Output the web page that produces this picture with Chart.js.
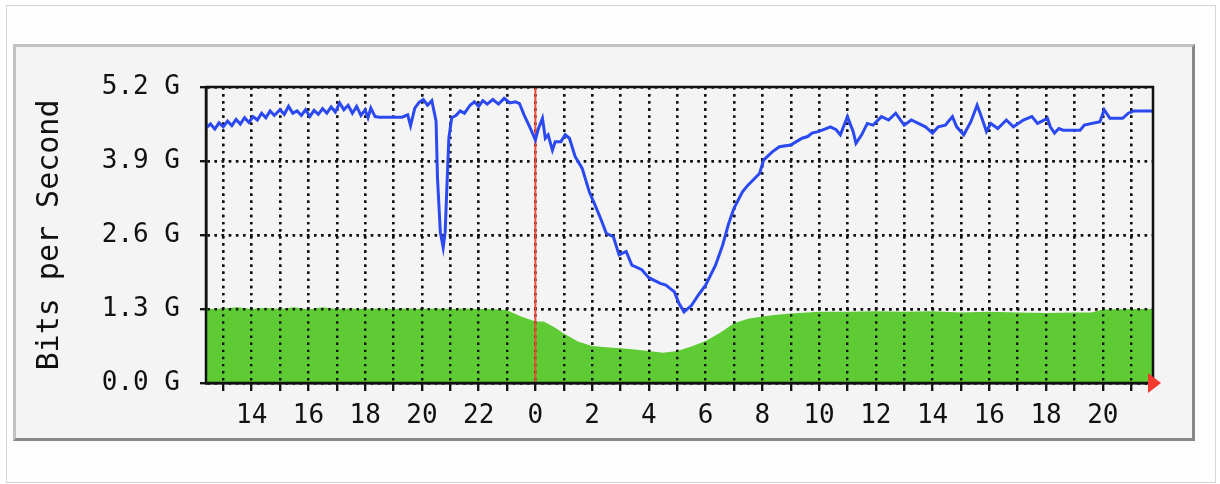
<!DOCTYPE html>
<html>
<head>
<meta charset="utf-8">
<script src="https://cdn.jsdelivr.net/npm/chart.js@4.4.1/dist/chart.umd.min.js"></script>
<style>
  html, body { margin: 0; padding: 0; background: #fff; }
  .page { position: relative; width: 1220px; height: 484px; overflow: hidden; }
  .outer { position: absolute; left: 6px; top: 5px; width: 1208px; height: 476px; border: 1px solid #d6d6d6; background: #fdfdfd; }
  .panel { position: absolute; left: 13px; top: 44px; width: 1176px; height: 391px; background: #f4f4f4;
           border-top: 3px solid #c2c2c2; border-left: 3px solid #c2c2c2;
           border-right: 3px solid #888; border-bottom: 3px solid #888; }
  canvas { position: absolute; left: 0; top: 0; }
</style>
</head>
<body>
<div class="page">
  <div class="outer"></div>
  <div class="panel"></div>
  <canvas id="traffic" width="1220" height="484"></canvas>
</div>
<script>
// hours since midnight of day 1 (24 = next midnight), values in Gbit/s
const outTime = [
  12.39, 12.55, 12.7, 12.85, 13.0, 13.15, 13.3, 13.45, 13.6, 13.75,
  13.9, 14.05, 14.2, 14.35, 14.5, 14.65, 14.8, 15.0, 15.15, 15.3,
  15.45, 15.6, 15.75, 15.9, 16.05, 16.2, 16.35, 16.5, 16.65, 16.8,
  16.95, 17.1, 17.25, 17.4, 17.55, 17.7, 17.85, 18.0, 18.1, 18.2,
  18.35, 18.5, 19.3, 19.5, 19.6, 19.75, 19.9, 20.05, 20.2, 20.35,
  20.5, 20.55, 20.65, 20.75, 20.82, 20.87, 20.95, 21.05, 21.2, 21.35,
  21.5, 21.7, 21.85, 22.0, 22.15, 22.3, 22.5, 22.7, 22.9, 23.1,
  23.3, 23.44, 23.6, 23.8, 24.0, 24.1, 24.25, 24.35, 24.45, 24.6,
  24.7, 24.9, 25.05, 25.2, 25.4, 25.65, 25.9, 26.1, 26.3, 26.5,
  26.75, 26.95, 27.2, 27.4, 27.75, 28.0, 28.4, 28.6, 28.9, 29.06,
  29.24, 29.5, 29.75, 30.0, 30.35, 30.6, 30.8, 31.0, 31.3, 31.5,
  31.9, 32.05, 32.35, 32.6, 33.0, 33.2, 33.4, 33.6, 33.75, 34.0,
  34.2, 34.4, 34.6, 34.75, 35.0, 35.2, 35.3, 35.5, 35.7, 35.9,
  36.2, 36.45, 36.7, 37.0, 37.25, 37.5, 37.75, 38.0, 38.2, 38.45,
  38.7, 38.85, 39.1, 39.35, 39.57, 39.7, 39.9, 40.05, 40.3, 40.6,
  40.85, 41.2, 41.5, 41.7, 42.05, 42.15, 42.3, 42.45, 42.6, 43.2,
  43.35, 43.9, 44.05, 44.25, 44.7, 44.9, 45.1, 45.77
];
const outBits = [
  4.48, 4.55, 4.46, 4.57, 4.50, 4.60, 4.52, 4.63, 4.55, 4.66,
  4.58, 4.68, 4.62, 4.74, 4.66, 4.78, 4.70, 4.80, 4.72, 4.86,
  4.74, 4.78, 4.70, 4.80, 4.68, 4.79, 4.72, 4.82, 4.74, 4.85,
  4.76, 4.92, 4.80, 4.88, 4.74, 4.86, 4.70, 4.80, 4.66, 4.83,
  4.68, 4.67, 4.67, 4.71, 4.52, 4.83, 4.93, 4.98, 4.88, 4.96,
  4.60, 3.60, 2.65, 2.38, 2.65, 3.30, 4.30, 4.66, 4.70, 4.78,
  4.74, 4.88, 4.94, 4.86, 4.96, 4.90, 4.98, 4.90, 5.00, 4.92,
  4.94, 4.91, 4.71, 4.50, 4.27, 4.46, 4.65, 4.30, 4.36, 4.09,
  4.24, 4.24, 4.36, 4.30, 3.98, 3.77, 3.36, 3.13, 2.89, 2.63,
  2.57, 2.25, 2.31, 2.07, 1.99, 1.85, 1.75, 1.72, 1.60, 1.40,
  1.25, 1.36, 1.55, 1.72, 2.07, 2.42, 2.78, 3.07, 3.36, 3.48,
  3.68, 3.92, 4.06, 4.15, 4.18, 4.24, 4.30, 4.33, 4.39, 4.42,
  4.46, 4.50, 4.45, 4.36, 4.68, 4.42, 4.21, 4.36, 4.56, 4.53,
  4.68, 4.62, 4.74, 4.53, 4.62, 4.56, 4.50, 4.39, 4.50, 4.53,
  4.68, 4.50, 4.36, 4.59, 4.88, 4.71, 4.42, 4.56, 4.47, 4.62,
  4.50, 4.62, 4.68, 4.56, 4.65, 4.50, 4.39, 4.47, 4.44, 4.44,
  4.53, 4.59, 4.80, 4.65, 4.65, 4.74, 4.78, 4.78
];

const inTime = [
  12.39, 13.0, 13.5, 14.0, 14.5, 15.0, 15.5, 16.0, 16.5, 17.0,
  17.5, 18.0, 18.5, 19.0, 19.5, 20.0, 20.5, 21.0, 21.5, 22.0,
  22.5, 23.0, 23.5, 24.0, 24.3, 24.7, 25.0, 25.5, 26.0, 26.5,
  27.0, 27.5, 28.0, 28.5, 29.0, 29.5, 30.0, 30.5, 31.0, 31.5,
  32.0, 32.5, 33.0, 34.0, 35.0, 36.0, 37.0, 38.0, 39.0, 40.0,
  41.0, 42.0, 43.0, 43.6, 44.0, 45.0, 45.77
];
const inBits = [
  1.30, 1.31, 1.33, 1.30, 1.32, 1.30, 1.33, 1.29, 1.33, 1.30,
  1.31, 1.30, 1.31, 1.30, 1.31, 1.30, 1.31, 1.30, 1.31, 1.30,
  1.30, 1.28, 1.17, 1.08, 1.08, 0.97, 0.87, 0.73, 0.65, 0.63,
  0.61, 0.59, 0.56, 0.53, 0.56, 0.64, 0.74, 0.88, 1.05, 1.13,
  1.17, 1.20, 1.22, 1.25, 1.25, 1.26, 1.25, 1.26, 1.24, 1.25,
  1.24, 1.23, 1.24, 1.24, 1.29, 1.30, 1.30
];

const yTicks = [0, 1.3, 2.6, 3.9, 5.2];
const yTickLabels = ['0.0 G', '1.3 G', '2.6 G', '3.9 G', '5.2 G'];
const xTickHours = [13, 14, 15, 16, 17, 18, 19, 20, 21, 22, 23, 24, 25, 26, 27, 28, 29,
                    30, 31, 32, 33, 34, 35, 36, 37, 38, 39, 40, 41, 42, 43, 44, 45];
const xTickLabels = ['', '14', '', '16', '', '18', '', '20', '', '22', '', '0', '', '2', '', '4', '',
                     '6', '', '8', '', '10', '', '12', '', '14', '', '16', '', '18', '', '20', ''];
const midnight = 24;

const toPoints = (xs, ys) => xs.map((x, i) => ({x: x, y: ys[i]}));

const monoFont = 'DejaVu Sans Mono';

// mrtg style: grid on top of the fill, red day line, frame and arrow
const mrtgDecor = {
  id: 'mrtgDecor',
  afterDatasetDraw(chart, args) {
    if (args.index !== 1) return;
    const {ctx, chartArea, scales} = chart;
    scales.x.drawGrid(chartArea);
    scales.y.drawGrid(chartArea);
    const mx = scales.x.getPixelForValue(midnight);
    ctx.save();
    ctx.strokeStyle = '#f24a3a';
    ctx.lineWidth = 2;
    ctx.beginPath();
    ctx.moveTo(mx, chartArea.top);
    ctx.lineTo(mx, chartArea.bottom);
    ctx.stroke();
    ctx.restore();
  },
  afterDraw(chart) {
    const {ctx, chartArea: a} = chart;
    ctx.save();
    ctx.strokeStyle = '#111';
    ctx.lineWidth = 2.5;
    ctx.strokeRect(a.left, a.top, a.width, a.height);
    ctx.fillStyle = '#f23b2e';
    ctx.beginPath();
    ctx.moveTo(a.right - 5, a.bottom - 10);
    ctx.lineTo(a.right + 8, a.bottom);
    ctx.lineTo(a.right - 5, a.bottom + 10);
    ctx.closePath();
    ctx.fill();
    ctx.restore();
  }
};

const config = {
  type: 'line',
  data: {
    datasets: [{
      label: 'Out',
      data: toPoints(outTime, outBits),
      borderColor: '#2b49f0',
      borderWidth: 3,
      pointRadius: 0,
      fill: false,
      tension: 0
    }, {
      label: 'In',
      data: toPoints(inTime, inBits),
      borderColor: '#5ecb35',
      backgroundColor: '#5ecb35',
      borderWidth: 0,
      pointRadius: 0,
      fill: 'origin',
      tension: 0
    }]
  },
  options: {
    responsive: false,
    animation: false,
    layout: { padding: { left: 0, top: 87, right: 67, bottom: 51 } },
    plugins: { legend: { display: false }, tooltip: { enabled: false } },
    scales: {
      x: {
        type: 'linear',
        min: 12.39,
        max: 45.77,
        afterBuildTicks: s => { s.ticks = xTickHours.map(v => ({value: v})); },
        afterFit: s => { s.height = 50; },
        grid: { color: '#111', lineWidth: 2.4, tickLength: 8, tickColor: '#111', tickWidth: 2 },
        border: { display: true, color: '#111', width: 2.5, dash: [2.4, 4.7] },
        ticks: {
          autoSkip: false, maxRotation: 0, padding: 10, color: '#111',
          font: { family: monoFont, size: 26 },
          callback: v => xTickLabels[xTickHours.indexOf(v)]
        }
      },
      y: {
        min: 0,
        max: 5.2,
        afterBuildTicks: s => { s.ticks = yTicks.map(v => ({value: v})); },
        afterFit: s => { s.width = 206; },
        grid: { color: '#111', lineWidth: 2.4, tickLength: 6, tickColor: '#111', tickWidth: 2 },
        border: { display: true, color: '#111', width: 2.5, dash: [2.4, 4.7] },
        ticks: {
          padding: 20, color: '#111',
          font: { family: monoFont, size: 26 },
          callback: v => yTickLabels[yTicks.indexOf(v)]
        },
        title: {
          display: true,
          text: 'Bits per Second',
          color: '#111',
          font: { family: monoFont, size: 30 },
          padding: { top: 32, bottom: 0 }
        }
      }
    }
  },
  plugins: [mrtgDecor]
};

new Chart(document.getElementById('traffic'), config);
</script>
</body>
</html>
